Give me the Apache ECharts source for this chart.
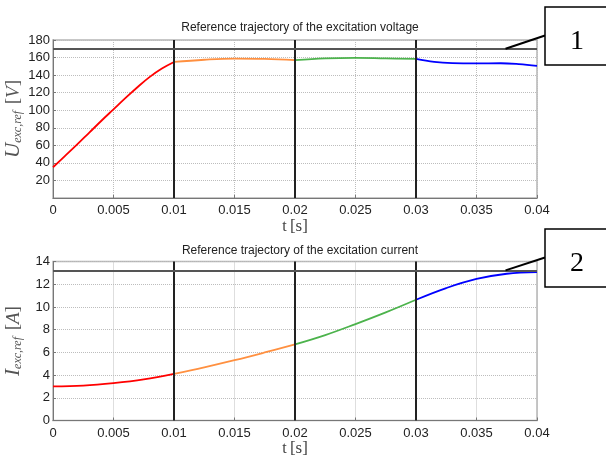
<!DOCTYPE html>
<html>
<head>
<meta charset="utf-8">
<script src="https://cdn.jsdelivr.net/npm/echarts@6/dist/echarts.min.js"></script>
<style>
  html, body { margin: 0; padding: 0; background: #fff; }
  #chart { width: 606px; height: 457px; }
</style>
</head>
<body>
<div id="chart"></div>
<script>
// excitation voltage reference, one array pair per segment
const tVoltRed = [0, 0.001, 0.002, 0.003, 0.004, 0.005, 0.006, 0.007, 0.008, 0.009, 0.01];
const uVoltRed = [35, 48, 61, 74.5, 88, 101, 114, 126.5, 138, 147.5, 155];
const tVoltOrange = [0.01, 0.0125, 0.015, 0.0175, 0.02];
const uVoltOrange = [155, 157.5, 158.8, 158.5, 157];
const tVoltGreen = [0.02, 0.0225, 0.025, 0.0275, 0.03];
const uVoltGreen = [157, 159, 159.6, 159, 158.4];
const tVoltBlue = [0.03, 0.0315, 0.033, 0.035, 0.037, 0.0385, 0.04];
const uVoltBlue = [158.4, 155, 153.6, 153.3, 153.5, 152.5, 150.5];

// excitation current reference
const tCurrRed = [0, 0.0025, 0.005, 0.0075, 0.01];
const iCurrRed = [3.0, 3.07, 3.29, 3.62, 4.11];
const tCurrOrange = [0.01, 0.0125, 0.015, 0.0175, 0.02];
const iCurrOrange = [4.11, 4.68, 5.31, 5.99, 6.7];
const tCurrGreen = [0.02, 0.0225, 0.025, 0.0275, 0.03];
const iCurrGreen = [6.7, 7.52, 8.49, 9.52, 10.63];
const tCurrBlue = [0.03, 0.0325, 0.035, 0.0375, 0.04];
const iCurrBlue = [10.63, 11.66, 12.46, 12.92, 13.07];

const segmentBounds = [0.01, 0.02, 0.03];
const uLimit = 170;
const iLimit = 13.22;
const segColors = ['#ff0000', '#ff9040', '#4cb34c', '#0000ff'];

const zip = (ts, vs) => ts.map((t, k) => [t, vs[k]]);

const chart = echarts.init(document.getElementById('chart'));

const sans = 'Liberation Sans, Arial, sans-serif';
const serif = 'Liberation Serif, Times New Roman, serif';

const xAxisBase = (gridIndex) => ({
  type: 'value',
  gridIndex,
  min: 0,
  max: 0.04,
  interval: 0.005,
  name: '{t|t} {b|[s]}',
  nameLocation: 'middle',
  nameGap: 18,
  nameTextStyle: {
    rich: {
      t: { fontFamily: serif, fontSize: 16, color: '#444' },
      b: { fontFamily: serif, fontSize: 17, color: '#444' }
    }
  },
  axisLine: { lineStyle: { color: '#777', width: 1 } },
  axisTick: { inside: true, length: 3, lineStyle: { color: '#777' } },
  axisLabel: {
    fontFamily: sans, fontSize: 13, color: '#222', margin: 6,
    formatter: v => String(+v.toFixed(3))
  },
  splitLine: { show: true, lineStyle: { type: 'dotted', color: '#bdbdbd' } }
});

const yName = (sym, unit) =>
  '{u|' + sym + '}{s|exc,ref}{g|  }{b|[}{bi|' + unit + '}{b|]}';

const yRich = {
  u: { fontFamily: serif, fontStyle: 'italic', fontSize: 21, color: '#555' },
  s: { fontFamily: serif, fontStyle: 'italic', fontSize: 12, color: '#555', verticalAlign: 'bottom' },
  g: { fontSize: 12 },
  b: { fontFamily: serif, fontSize: 19, color: '#555' },
  bi: { fontFamily: serif, fontStyle: 'italic', fontSize: 19, color: '#555' }
};

const yAxisBase = (gridIndex, max, interval, name, showMin) => ({
  type: 'value',
  gridIndex,
  min: 0,
  max,
  interval,
  name,
  nameLocation: 'middle',
  nameRotate: 90,
  nameGap: 29,
  nameMoveOverlap: false,
  nameTextStyle: { rich: yRich },
  axisLine: { show: true, lineStyle: { color: '#777', width: 1 } },
  axisTick: { show: true, inside: true, length: 3, lineStyle: { color: '#777' } },
  axisLabel: { fontFamily: sans, fontSize: 13, color: '#222', margin: 3, showMinLabel: showMin },
  splitLine: { show: true, lineStyle: { type: 'dotted', color: '#bdbdbd' } }
});

const guideLines = (limit) => ({
  symbol: ['none', 'none'],
  silent: true,
  label: { show: false },
  emphasis: { disabled: true },
  data: segmentBounds.map(b => ({ xAxis: b, lineStyle: { color: '#222', width: 2, type: 'solid' } }))
    .concat([{ yAxis: limit, lineStyle: { color: '#555', width: 2, type: 'solid' } }])
});

const seg = (data, color, idx, extra) => Object.assign({
  type: 'line',
  xAxisIndex: idx,
  yAxisIndex: idx,
  data,
  smooth: 0.4,
  showSymbol: false,
  lineStyle: { color, width: 1.8 },
  itemStyle: { color },
  z: 3
}, extra || {});

chart.setOption({
  animation: false,
  backgroundColor: '#fff',
  title: [
    { text: 'Reference trajectory of the excitation voltage', left: 295, textAlign: 'center', top: 17,
      textStyle: { fontFamily: sans, fontSize: 12, fontWeight: 'normal', color: '#222' } },
    { text: 'Reference trajectory of the excitation current', left: 295, textAlign: 'center', top: 240,
      textStyle: { fontFamily: sans, fontSize: 12, fontWeight: 'normal', color: '#222' } }
  ],
  grid: [
    { left: 53, top: 40, width: 484, height: 158, show: true, borderColor: '#b5b5b5', borderWidth: 1.5,
      containLabel: false, outerBoundsMode: 'none' },
    { left: 53, top: 261.5, width: 484, height: 159, show: true, borderColor: '#b5b5b5', borderWidth: 1.5,
      containLabel: false, outerBoundsMode: 'none' }
  ],
  xAxis: [xAxisBase(0), xAxisBase(1)],
  yAxis: [
    yAxisBase(0, 180, 20, yName('U', 'V'), false),
    yAxisBase(1, 14, 2, yName('I', 'A'), true)
  ],
  series: [
    seg(zip(tVoltRed, uVoltRed), segColors[0], 0, { markLine: guideLines(uLimit) }),
    seg(zip(tVoltOrange, uVoltOrange), segColors[1], 0),
    seg(zip(tVoltGreen, uVoltGreen), segColors[2], 0),
    seg(zip(tVoltBlue, uVoltBlue), segColors[3], 0),
    seg(zip(tCurrRed, iCurrRed), segColors[0], 1, { markLine: guideLines(iLimit) }),
    seg(zip(tCurrOrange, iCurrOrange), segColors[1], 1),
    seg(zip(tCurrGreen, iCurrGreen), segColors[2], 1),
    seg(zip(tCurrBlue, iCurrBlue), segColors[3], 1)
  ]
});

// callout boxes "1" and "2" pointing at the limit lines
const callout = (gridIndex, limit, label, boxTop) => {
  const p = chart.convertToPixel({ gridIndex }, [0.0374, limit]);
  return [
    { type: 'line', z: 10, shape: { x1: p[0], y1: p[1], x2: 545, y2: boxTop + 28.5 },
      style: { stroke: '#000', lineWidth: 2 } },
    { type: 'rect', z: 10, shape: { x: 545, y: boxTop, width: 80, height: 58 },
      style: { fill: '#fff', stroke: '#000', lineWidth: 1.5 } },
    { type: 'text', z: 11, x: 577, y: boxTop + 35,
      style: { text: label, fontFamily: serif, fontSize: 28, fill: '#000', align: 'center', verticalAlign: 'middle' } }
  ];
};

chart.setOption({
  graphic: callout(0, uLimit, '1', 7).concat(callout(1, iLimit, '2', 229))
});
</script>
</body>
</html>
